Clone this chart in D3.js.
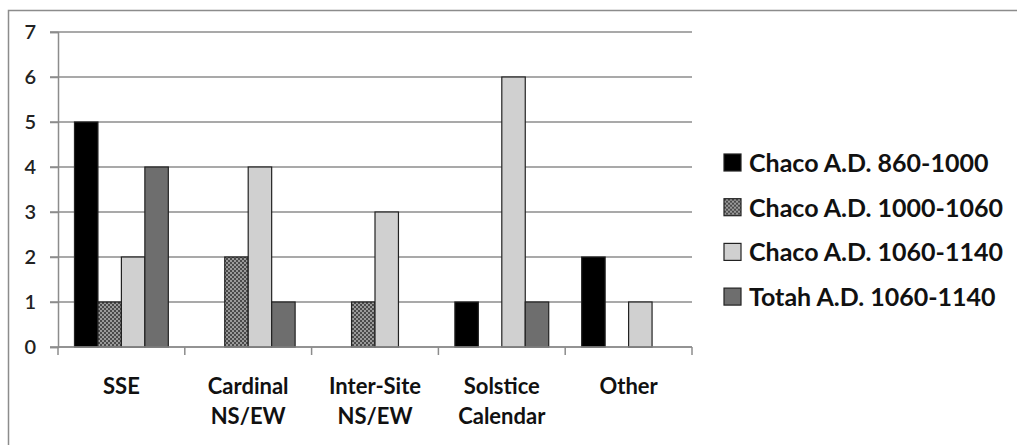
<!DOCTYPE html>
<html>
<head>
<meta charset="utf-8">
<script src="https://cdn.jsdelivr.net/npm/d3@7"></script>
<style>
body { margin: 0; background: #fff; }
text { font-family: Lato, "Open Sans", sans-serif; }
</style>
</head>
<body>
<script>
var categories = [["SSE"], ["Cardinal", "NS/EW"], ["Inter-Site", "NS/EW"], ["Solstice", "Calendar"], ["Other"]];
var seriesNames = ["Chaco A.D. 860-1000", "Chaco A.D. 1000-1060", "Chaco A.D. 1060-1140", "Totah A.D. 1060-1140"];
var chaco860 = [5, 0, 0, 1, 2];
var chaco1000 = [1, 2, 1, 0, 0];
var chaco1060 = [2, 4, 3, 6, 1];
var totah1060 = [4, 1, 0, 1, 0];
var yTicks = [0, 1, 2, 3, 4, 5, 6, 7];

var allSeries = [chaco860, chaco1000, chaco1060, totah1060];
var fills = ["#000000", "url(#checker)", "#d0d0d0", "#6e6e6e"];

var svg = d3.select("body").append("svg").attr("width", 1017).attr("height", 445);

var defs = svg.append("defs");
var pat = defs.append("pattern").attr("id", "checker").attr("width", 4).attr("height", 4).attr("patternUnits", "userSpaceOnUse");
pat.append("rect").attr("width", 4).attr("height", 4).attr("fill", "#9a9a9a");
pat.append("rect").attr("width", 2).attr("height", 2).attr("fill", "#4a4a4a");
pat.append("rect").attr("x", 2).attr("y", 2).attr("width", 2).attr("height", 2).attr("fill", "#4a4a4a");

// outer frame (left and top visible)
svg.append("rect").attr("x", 8.5).attr("y", 10.5).attr("width", 1030).attr("height", 460)
	.attr("fill", "none").attr("stroke", "#8c8c8c").attr("stroke-width", 1.5);

var x0 = d3.scaleBand().domain(d3.range(categories.length)).range([58, 692]).paddingInner(0).paddingOuter(0);
var inner = x0.bandwidth();
var gap = inner * 0.26;
var x1 = d3.scaleBand().domain(d3.range(allSeries.length)).range([gap / 2, inner - gap / 2]);
var y = d3.scaleLinear().domain([0, 7]).range([347, 32]);

// gridlines
svg.append("g").selectAll("line").data(yTicks).enter().append("line")
	.attr("x1", 50).attr("x2", 692)
	.attr("y1", function(d) { return y(d); }).attr("y2", function(d) { return y(d); })
	.attr("stroke", "#8c8c8c").attr("stroke-width", 1.5);

// y axis
var yAxis = svg.append("g").attr("transform", "translate(58,0)")
	.call(d3.axisLeft(y).tickValues(yTicks).tickSize(8).tickFormat(d3.format("d")));
yAxis.select(".domain").attr("stroke", "#8c8c8c").attr("stroke-width", 1.5);
yAxis.selectAll(".tick line").attr("stroke", "#8c8c8c").attr("stroke-width", 1.5);
yAxis.selectAll(".tick text").attr("x", -22).style("font-size", "20px").style("font-weight", "600").attr("fill", "#222");

// bars
allSeries.forEach(function(series, s) {
	var pts = series.map(function(v, i) { return { v: v, i: i }; }).filter(function(d) { return d.v > 0; });
	svg.append("g").selectAll("rect").data(pts).enter().append("rect")
		.attr("x", function(d) { return x0(d.i) + x1(s); })
		.attr("y", function(d) { return y(d.v); })
		.attr("width", x1.bandwidth())
		.attr("height", function(d) { return y(0) - y(d.v); })
		.attr("fill", fills[s])
		.attr("stroke", "#222").attr("stroke-width", 1.2);
});

// x axis
var xAxisG = svg.append("g").attr("transform", "translate(0,347)");
xAxisG.append("line").attr("x1", 58).attr("x2", 692).attr("stroke", "#8c8c8c").attr("stroke-width", 1.5);
xAxisG.selectAll(".xt").data(d3.range(categories.length + 1)).enter().append("line")
	.attr("x1", function(d) { return 58 + d * inner; }).attr("x2", function(d) { return 58 + d * inner; })
	.attr("y1", 0).attr("y2", 8).attr("stroke", "#8c8c8c").attr("stroke-width", 1.5);

var labels = svg.append("g").selectAll("text").data(categories).enter().append("text")
	.attr("text-anchor", "middle")
	.attr("x", function(d, i) { return x0(i) + inner / 2; })
	.attr("y", 394)
	.style("font-size", "22px").style("font-weight", "bold").attr("fill", "#111");
labels.selectAll("tspan").data(function(d) { return d; }).enter().append("tspan")
	.attr("x", function() { return d3.select(this.parentNode).attr("x"); })
	.attr("dy", function(d, i) { return i === 0 ? 0 : 30; })
	.text(function(d) { return d; });

// legend
var legend = svg.append("g").selectAll("g").data(seriesNames).enter().append("g")
	.attr("transform", function(d, i) { return "translate(724," + (162 + i * 44.7) + ")"; });
legend.append("rect").attr("x", 0).attr("y", -8).attr("width", 17).attr("height", 17)
	.attr("fill", function(d, i) { return fills[i]; }).attr("stroke", "#222").attr("stroke-width", 1.2);
legend.append("text").attr("x", 25).attr("y", 10)
	.style("font-size", "25px").style("font-weight", "bold").attr("fill", "#111")
	.text(function(d) { return d; });
</script>
</body>
</html>
